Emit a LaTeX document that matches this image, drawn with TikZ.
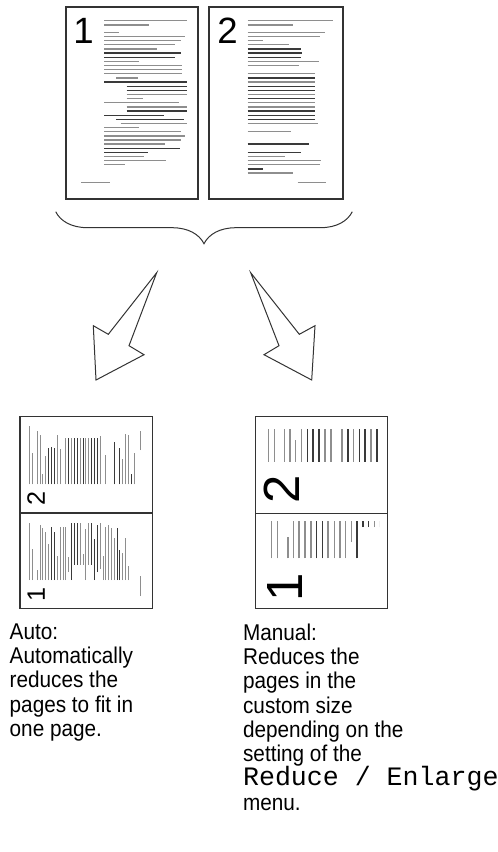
\documentclass[tikz,border=0pt]{standalone}
\usepackage{fontspec}
\setmainfont{Liberation Sans}[FakeStretch=0.91]
\newfontfamily\digitfont{Liberation Sans}
\newfontfamily\monofont{Liberation Mono}
\usetikzlibrary{decorations.pathreplacing}
\definecolor{pgink}{HTML}{333333}
\definecolor{lngray}{HTML}{8E8E8E}
\definecolor{lnblack}{HTML}{3A3A3A}
\tikzset{
  frame/.style={draw=pgink, line width=0.75pt},
  txtw/.style={line width=0.55pt},
  digit/.style={font=\digitfont\fontsize{18.3}{20}\selectfont, inner sep=0pt, anchor=base west, transform shape},
  desc/.style={font=\fontsize{11.4}{12.15}\selectfont, align=left, inner sep=0pt, anchor=north west},
  bigarr/.style={draw=pgink, line width=0.5pt, fill=white, line join=miter},
  brc/.style={draw=pgink, line width=0.5pt, decorate, decoration={brace, mirror, amplitude=16pt}},
}
% page contents in page coordinates (origin top left, y down)
\newcommand\drawpageone[1]{%
  \foreach \xa/\xb/\yy/\cl in {38.3/121/13.7/lngray, 38.3/83.3/18/lngray, 38.3/53.3/25.3/lngray, 38.3/119/29.3/lngray,
      38.3/114.7/33.3/lngray, 38.3/109/37.7/lngray, 38.3/90.7/42/lngray, 38.3/115/46/lnblack, 38.3/109/50.3/lnblack,
      38.3/73.3/54.3/lngray, 38.3/115.7/58.7/lngray, 38.3/115.7/62.7/lngray, 38.3/115.7/66.7/lngray, 50/71.7/71/lngray,
      38.3/121/75/lnblack, 60.7/121/79.3/lnblack, 60.7/121/83.3/lnblack, 60.7/121/87.7/lngray, 60.7/76.7/91.7/lngray,
      38.3/112.7/95.7/lngray, 60.7/121/100/lngray, 60.7/121/104/lnblack, 38.3/98/108.3/lnblack, 50/118.3/112.3/lnblack,
      54.7/121/116.3/lngray, 38.3/73.3/120.7/lngray, 38.3/115/124.7/lngray, 38.3/119/129/lngray, 38.3/114.7/133/lngray,
      38.3/99/137/lngray, 38.3/114/141.3/lnblack, 38.3/81.7/145.3/lnblack, 38.3/78.3/149.3/lngray, 38.3/100/153.7/lngray,
      38.3/59/157.7/lngray, 15/43.7/175.7/lngray}
    { \draw[txtw, draw=\cl] (\xa,\yy) -- (\xb,\yy); }
  \node[digit] (#1-num) at (7,36) {1};
}
\newcommand\drawpagetwo[1]{%
  \foreach \xa/\xb/\yy/\cl in {38.7/123.7/13.7/lngray, 38.7/83.7/18/lngray, 38.7/116/25.3/lngray, 38.7/111/29.3/lngray,
      38.7/54.3/33.3/lngray, 38.7/80.3/37.7/lngray, 38.7/91.7/42/lnblack, 38.7/93.3/46/lnblack, 38.7/91.7/50.3/lnblack,
      38.7/110.3/54.3/lngray, 38.7/90.3/58.7/lngray, 38.7/106/66.7/lngray, 38.7/106/71/lnblack, 38.7/106/75/lngray,
      38.7/106/79.3/lnblack, 38.7/106/83.3/lnblack, 38.7/106/87.7/lngray, 38.7/106/91.7/lnblack, 38.7/106/95.7/lngray,
      38.7/106/100/lngray, 38.7/106/104/lnblack, 38.7/106/108.3/lnblack, 38.7/106/112.3/lnblack, 38.7/109.3/116.3/lngray,
      38.7/82/124.7/lngray, 38.7/99.7/137/lnblack, 38.7/92/145.3/lnblack, 38.7/76/149.3/lngray, 38.7/112/153.7/lngray,
      38.7/111/157.7/lngray, 38.7/53.7/162/lnblack, 38.7/83.7/166/lngray, 88.7/117/175.7/lngray}
    { \draw[txtw, draw=\cl] (\xa,\yy) -- (\xb,\yy); }
  \node[digit] (#1-num) at (8,36) {2};
}

\begin{document}
\begin{tikzpicture}[x=0.5pt, y=-0.5pt]
  \useasboundingbox (0,0) rectangle (498,852);
  % the two source pages
  \begin{scope}[shift={(66,7)}] \drawpageone{srcone} \end{scope}
  \begin{scope}[shift={(209,7)}] \drawpagetwo{srctwo} \end{scope}
  \draw[frame] (66,7) rectangle (198,199);
  \draw[frame] (209,7) rectangle (343,199);
  \draw[brc] (55.7,211.7) -- (352.3,211.7);
  \draw[bigarr] (156.7,272.7) -- (108.3,334.3) -- (93.3,325.7) -- (96,380) -- (144,354.7) -- (129,345.7) -- cycle;
  \draw[bigarr] (250.7,272.7) -- (299.3,334.3) -- (315,325.7) -- (311.7,380) -- (264,354.7) -- (279,345.7) -- cycle;
  % auto: both pages rotated and reduced
  \begin{scope}[shift={(20,511)}, rotate=90, scale=0.6875, txtw/.style={line width=0.45pt}] \drawpagetwo{autotwo} \end{scope}
  \begin{scope}[shift={(20,606.5)}, rotate=90, scale=0.6875, txtw/.style={line width=0.45pt}] \drawpageone{autoone} \end{scope}
  \draw[frame] (20,416.7) rectangle (152.3,608.3);
  \draw[frame] (20,513) -- (152.3,513);
  % manual: rotated, custom size, cut at the margins
  \begin{scope}
    \clip (255.7,429.3) rectangle (379,513.3);
    \begin{scope}[shift={(249.3,515.5)}, rotate=90, scale=1.39, txtw/.style={line width=0.75pt}] \drawpagetwo{mantwo} \end{scope}
  \end{scope}
  \begin{scope}
    \clip (255.7,521.7) rectangle (379,608.3);
    \begin{scope}[shift={(252.7,611.5)}, rotate=90, scale=1.39, txtw/.style={line width=0.75pt}] \drawpageone{manone} \end{scope}
  \end{scope}
  \draw[frame] (255.7,416.7) rectangle (387.7,608.3);
  \draw[frame] (255.7,513.3) -- (387.7,513.3);
  \node[desc] (autotext) at (9.3,623.2) {Auto:\\Automatically\\reduces the\\pages to fit in\\one page.};
  \node[desc] (mantext) at (242.7,623.2) {Manual:\\Reduces the\\pages in the\\custom size\\depending on the\\setting of the\\{\monofont\fontsize{13.3}{12.15}\selectfont Reduce / Enlarge}\\menu.};
\end{tikzpicture}
\end{document}
